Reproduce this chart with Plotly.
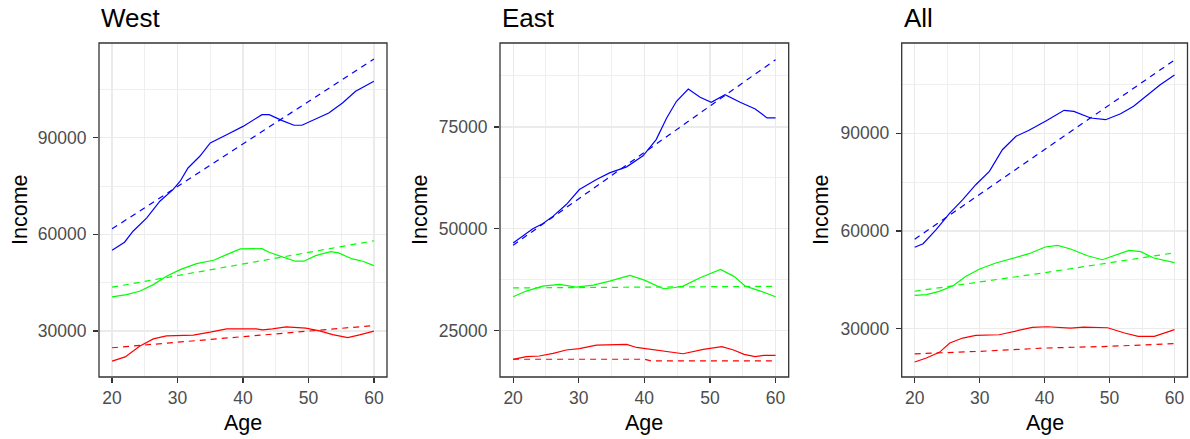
import plotly.graph_objects as go

W, H = 1190, 439
OFF = 0  # page margin removed by post_script below

# ---------------- data ----------------
# West
west_blue_age = [20, 21.9, 23.2, 25.3, 27.3, 29.3, 30.4, 31.6, 33.4, 35, 37.5, 40, 42.9, 44, 46, 47.8, 49, 51.1, 53.1, 55.2, 57.2, 60]
west_blue = [55070, 57550, 60960, 65090, 70270, 73870, 76480, 80600, 84230, 88360, 90930, 93500, 97140, 97140, 95280, 93850, 93850, 95800, 97660, 100760, 104390, 107500]
west_blue_fit_age = [20, 40, 60]
west_blue_fit = [61700, 88050, 114400]
west_green_age = [20, 22.2, 24.2, 26.3, 28.3, 30.4, 32.9, 35.5, 37.5, 39.6, 42.9, 44, 46, 48, 49.3, 51.1, 53.4, 54.6, 56.7, 58.3, 60]
west_green = [40580, 41300, 42350, 44400, 47000, 49050, 50910, 51970, 53710, 55470, 55570, 54450, 53000, 51660, 51660, 53400, 54640, 54230, 52370, 51660, 50300]
west_green_fit_age = [20, 40, 60]
west_green_fit = [43600, 50800, 58000]
west_red_age = [20, 22, 24.2, 26.3, 28.3, 32.4, 35, 37.5, 42, 43, 44.5, 46.6, 49.6, 51.7, 53.7, 56, 57.8, 60]
west_red = [20640, 21970, 25290, 27550, 28480, 28700, 29630, 30660, 30660, 30350, 30660, 31280, 30870, 30040, 28900, 27960, 28800, 29950]
west_red_fit_age = [20, 40, 60]
west_red_fit = [24800, 28200, 31700]

# East
east_blue_age = [20, 21.5, 23, 24.5, 26.1, 28.1, 30.1, 32.7, 34.7, 37.3, 39.8, 41.8, 43.4, 44.9, 46.7, 48.5, 50.2, 52.3, 54.6, 56.9, 58.7, 60]
east_blue = [46500, 48360, 50000, 51230, 53110, 55960, 59640, 62090, 63730, 65200, 67900, 71890, 77210, 81300, 84310, 82280, 81050, 82920, 81050, 79410, 77210, 77210]
east_blue_fit_age = [20, 40, 60]
east_blue_fit = [46000, 68750, 91500]
east_green_age = [20, 22, 24.5, 27.1, 29.6, 32.2, 34.7, 37.8, 40, 42.9, 44.4, 45.9, 48.5, 51.6, 53.6, 55.4, 57.7, 60]
east_green = [33330, 34730, 35950, 36350, 35710, 36200, 37180, 38550, 37420, 35300, 35550, 35950, 37990, 40030, 38400, 35950, 34730, 33330]
east_green_fit_age = [20, 60]
east_green_fit = [35500, 35900]
east_red_age = [20, 22, 24, 26.1, 28.1, 30.1, 32.7, 35.2, 37.3, 38.8, 40.1, 42.9, 45.9, 49, 51.8, 53.6, 55.2, 56.9, 58.2, 60]
east_red = [17970, 18630, 18800, 19440, 20270, 20590, 21490, 21640, 21640, 20900, 20590, 20100, 19360, 20420, 21080, 20270, 19190, 18630, 18960, 18960]
east_red_fit_age = [20, 40, 41, 60]
east_red_fit = [18000, 18000, 17600, 17600]

# All
all_blue_age = [20, 21.3, 23.3, 25.4, 27.4, 29.4, 31.5, 33.5, 35.6, 37.6, 40.2, 43, 44.5, 47.1, 49.4, 51.7, 53.7, 55.8, 57.8, 60]
all_blue = [54990, 56100, 60400, 65520, 69610, 74220, 78330, 84960, 89080, 90920, 93800, 97060, 96750, 94700, 94180, 96020, 98290, 101550, 104930, 107900]
all_blue_fit_age = [20, 40, 60]
all_blue_fit = [57500, 85000, 112500]
all_green_age = [20, 21.8, 23.8, 25.9, 27.9, 30, 32.5, 35.1, 37.6, 40.1, 42, 44, 46.6, 48.9, 50.7, 53, 54.8, 56.8, 60]
all_green = [40250, 40450, 41480, 43200, 46090, 48330, 50170, 51710, 53030, 55080, 55600, 54470, 52410, 51180, 52410, 54070, 53650, 51710, 50300]
all_green_fit_age = [20, 40, 60]
all_green_fit = [41500, 47200, 53300]
all_red_age = [20, 21.8, 23.8, 25.4, 27.4, 29.4, 33, 35.6, 38.1, 40.4, 44, 46, 49.7, 52.3, 54.4, 56.9, 60]
all_red = [19770, 20990, 22740, 25600, 27130, 27960, 28150, 29290, 30420, 30600, 30200, 30500, 30300, 28670, 27650, 27650, 29700]
all_red_fit_age = [20, 30, 40, 50, 60]
all_red_fit = [22300, 23050, 24060, 24590, 25400]

panel_titles = ["West", "East", "All"]
x_ticks = [20, 30, 40, 50, 60]
y_ticks = [[30000, 60000, 90000], [25000, 50000, 75000], [30000, 60000, 90000]]
y_minor = [15000, 12500, 15000]
y_ranges = [[15730, 119380], [13650, 95590], [15170, 117730]]

panels = [
    [(west_blue_age, west_blue, west_blue_fit_age, west_blue_fit, "#0000FF"),
     (west_green_age, west_green, west_green_fit_age, west_green_fit, "#00FF00"),
     (west_red_age, west_red, west_red_fit_age, west_red_fit, "#FF0000")],
    [(east_blue_age, east_blue, east_blue_fit_age, east_blue_fit, "#0000FF"),
     (east_green_age, east_green, east_green_fit_age, east_green_fit, "#00FF00"),
     (east_red_age, east_red, east_red_fit_age, east_red_fit, "#FF0000")],
    [(all_blue_age, all_blue, all_blue_fit_age, all_blue_fit, "#0000FF"),
     (all_green_age, all_green, all_green_fit_age, all_green_fit, "#00FF00"),
     (all_red_age, all_red, all_red_fit_age, all_red_fit, "#FF0000")],
]

# ---------------- layout geometry (reference pixels) ----------------
panel_left = [99, 500, 901.7]
panel_right = [387, 788.7, 1187.5]
panel_top, panel_bottom = 43, 377
ylab_x = [20, 420, 821]


def px(p):
    return (p - OFF) / W


def py(p):
    return 1 - (p - OFF) / H


FONT = "Liberation Sans, Arial, sans-serif"

fig = go.Figure()
for i, series in enumerate(panels):
    xa = "x" if i == 0 else f"x{i+1}"
    ya = "y" if i == 0 else f"y{i+1}"
    for (ax, av, fx, fv, col) in series:
        fig.add_trace(go.Scatter(x=ax, y=av, mode="lines", line=dict(color=col, width=1.2),
                                 xaxis=xa, yaxis=ya, showlegend=False, hoverinfo="skip"))
        fig.add_trace(go.Scatter(x=fx, y=fv, mode="lines", line=dict(color=col, width=1.2, dash="6px,5px"),
                                 xaxis=xa, yaxis=ya, showlegend=False, hoverinfo="skip"))

layout = dict(width=W, height=H, margin=dict(l=0, r=0, t=0, b=0),
              paper_bgcolor="white", plot_bgcolor="white", showlegend=False)

common = dict(showline=False,
              ticks="outside", ticklen=5, tickwidth=1.2, tickcolor="#333333",
              tickfont=dict(family=FONT, size=17.5, color="#4D4D4D"),
              showgrid=True, gridcolor="#EBEBEB", gridwidth=1.2, zeroline=False, fixedrange=True)

annotations = []
shapes = []
for i in range(3):
    sfx = "" if i == 0 else str(i + 1)
    xd = [px(panel_left[i]), px(panel_right[i])]
    yd = [py(panel_bottom), py(panel_top)]
    layout["xaxis" + sfx] = dict(common, domain=xd, range=[18, 62], tickvals=x_ticks,
                                 ticktext=[str(v) for v in x_ticks], anchor="y" + sfx,
                                 minor=dict(dtick=5, tick0=0, showgrid=True, gridcolor="#EBEBEB", gridwidth=0.8, ticks=""))
    layout["yaxis" + sfx] = dict(common, domain=yd, range=y_ranges[i], tickvals=y_ticks[i],
                                 ticktext=[str(v) for v in y_ticks[i]], anchor="x" + sfx,
                                 ticklabelstandoff=3,
                                 minor=dict(dtick=y_minor[i], tick0=0, showgrid=True, gridcolor="#EBEBEB", gridwidth=0.8, ticks=""))
    shapes.append(dict(type="rect", xref="paper", yref="paper", x0=xd[0], x1=xd[1], y0=yd[0], y1=yd[1],
                       line=dict(color="#333333", width=1.3), fillcolor="rgba(0,0,0,0)", layer="above"))
    annotations.append(dict(text=panel_titles[i], x=px(panel_left[i]), y=py(18), xref="paper", yref="paper",
                            xanchor="left", yanchor="middle", showarrow=False,
                            font=dict(family=FONT, size=26, color="black")))
    annotations.append(dict(text="Age", x=px((panel_left[i] + panel_right[i]) / 2), y=py(423),
                            xref="paper", yref="paper", xanchor="center", yanchor="middle", showarrow=False,
                            font=dict(family=FONT, size=21.5, color="black")))
    annotations.append(dict(text="Income", x=px(ylab_x[i]), y=py(210), xref="paper", yref="paper",
                            xanchor="center", yanchor="middle", textangle=-90, showarrow=False,
                            font=dict(family=FONT, size=21.5, color="black")))

layout["annotations"] = annotations
layout["shapes"] = shapes
fig.update_layout(**layout)
fig.write_html("out.html", config={"displayModeBar": False, "staticPlot": True},
               post_script="document.body.style.margin='0';document.body.style.overflow='hidden';")
